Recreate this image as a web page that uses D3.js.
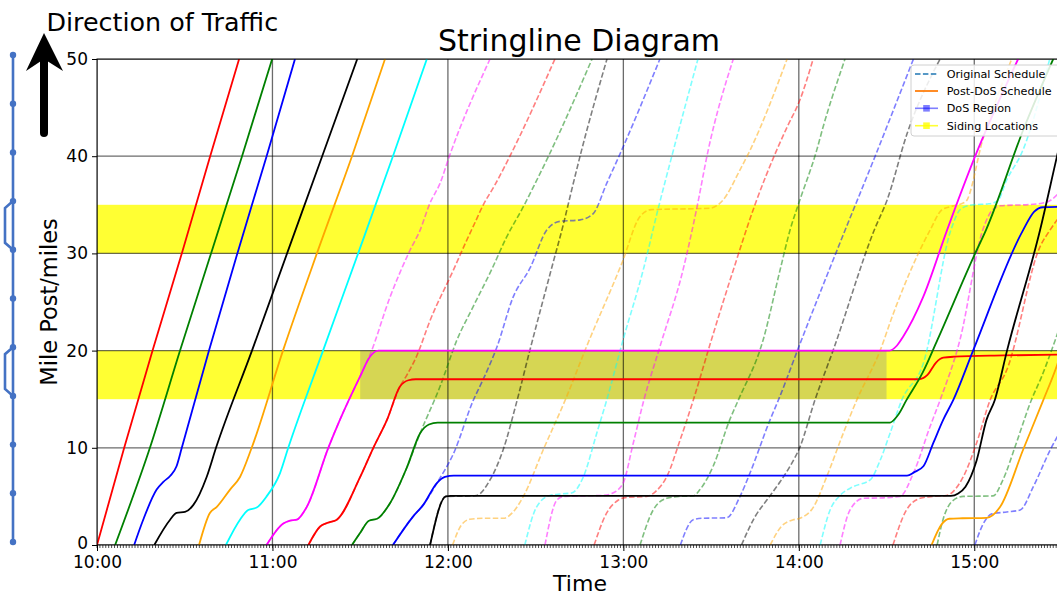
<!DOCTYPE html>
<html>
<head>
<meta charset="utf-8">
<script src="https://cdn.jsdelivr.net/npm/d3@7"></script>
<style>
  body { margin: 0; background: #fff; }
  text { font-family: "DejaVu Sans", sans-serif; }
</style>
</head>
<body>
<svg id="chart" width="1057" height="596"></svg>
<script>
// ---- data (times are minutes after 10:00, positions are mile posts) ----
var hourTicks = [0, 60, 120, 180, 240, 300];
var hourLabels = ["10:00", "11:00", "12:00", "13:00", "14:00", "15:00"];
var mileTicks = [0, 10, 20, 30, 40, 50];
var sidingBands = [[15, 20], [30, 35]];
var dosWindow = [90, 270];
var dosMiles = [15, 20];
var stationMiles = [0, 5, 10, 15, 20, 25, 30, 35, 40, 45, 50];
var legendLabels = ["Original Schedule", "Post-DoS Schedule", "DoS Region", "Siding Locations"];

// post-DoS schedule (solid)
var post01 = [[0,0],[9.3,10],[19,20],[29,30],[38.7,40],[48.6,50]];
var post02 = [[6.2,0],[18.1,10],[28.4,20],[39,30],[49.6,40],[59.9,50]];
var post03 = [[12.7,0],[15.8,2.6],[20.4,5.7],[22.7,6.5],[25,7.1],[27.2,8.1],[29,10],[38.3,20],[48,30],[58,40],[67.7,50]];
var post04 = [[19.6,0],[25,2.6],[27.2,3.3],[30.1,3.4],[32.9,4.1],[37.5,7],[40.7,10],[53,20],[65,30],[77,40],[89,50]];
var post05 = [[34.9,0],[38.6,3.3],[40.9,3.9],[45.5,5.7],[48.9,7],[52.9,10],[63.6,20],[75.2,30],[87.2,40],[98.5,50]];
var post06 = [[44.1,0],[48.9,2.6],[51.7,3.6],[54.6,3.85],[58,5],[62.6,7.4],[65.4,10],[77.3,20],[89.3,30],[101.2,40],[112.8,50]];
var post07 = [[58,0],[63.7,2.2],[66,2.5],[68.3,2.6],[71.7,3.9],[79.1,10],[83.1,12.9],[89.9,17.3],[93.4,19.4],[96.2,20],[271,20],[273.5,20.5],[275.6,21.4],[282.5,25.5],[290.7,32.4],[300.3,40],[315,50]];
var post08 = [[72.3,0],[76.3,1.9],[79.1,2.3],[82,2.6],[90,7],[94.5,10],[99.2,12.9],[103.6,16.3],[106.5,16.95],[109,17.05],[281,17.05],[284,17.5],[287,18.8],[289.4,19.27],[293,19.37],[310,19.5],[330,19.6]];
var post09 = [[87.2,0],[89.9,1.2],[93,2.5],[95.8,2.7],[100.2,4.3],[106,8],[110.5,11.5],[113.5,12.4],[116.5,12.6],[271.2,12.6],[274,13.4],[276.8,14.9],[282.3,17.7],[287.4,21.1],[300,29.8],[304,32.4],[317,42.9],[327,50]];
var post10 = [[101.2,0],[108,2.9],[111.5,4.1],[116.3,6.4],[119,7],[122,7.13],[277,7.13],[279.5,7.5],[282.6,8.1],[286,10.5],[289.4,12.9],[292.8,14.9],[299.6,20],[316.7,32.4],[320.5,34.3],[323.5,34.75],[331,34.8]];
var post11 = [[113.9,0],[119.3,5],[121,5.05],[292,5.05],[294.5,5.3],[297,6],[300.8,8.7],[304.2,12.9],[307,14.9],[311.2,20],[322.5,32.4],[328.3,40],[331,43.5]];
var post12 = [[285.4,0],[289,2.2],[291.5,2.7],[296,2.75],[304.2,2.8],[308.8,3.9],[316.7,9.8],[323.6,14.9],[328.3,18.5],[331,21]];
var postColors = ["red", "green", "blue", "black", "orange", "cyan", "magenta", "red", "green", "blue", "black", "orange"];

// original schedule (dashed)
var orig07 = [[58,0],[63.7,2.2],[66,2.5],[68.3,2.6],[71.7,3.9],[79.1,10],[83.1,12.9],[89.9,17.3],[93.4,19.6],[100.2,25.5],[107,30.3],[110.5,32.4],[113.9,35.2],[117.3,37.2],[120.5,40],[134.4,50]];
var orig08 = [[72.3,0],[76.3,1.9],[79.1,2.3],[82,2.6],[90,7],[94.5,10],[99.2,12.9],[103.6,16.3],[106,17.5],[109.4,19.5],[113.9,23.1],[121.9,28.3],[126.5,31.4],[129,33],[132.1,35],[136,37],[141.2,40],[156.6,50]];
var orig09 = [[87.2,0],[89.9,1.2],[93,2.5],[95.8,2.7],[100.2,4.3],[106,8],[110.5,11.5],[117.3,16.3],[123.1,21.1],[128.6,24.5],[134.9,28.3],[140.1,31.7],[145.8,34.8],[149.5,37],[154.4,40],[169.3,50]];
var orig10 = [[101.2,0],[108,2.9],[111.5,4.1],[116.3,6.4],[121.9,9.4],[128.7,14.9],[132,17],[136.8,20.4],[142.3,25.5],[148.1,28.5],[153.8,32.4],[158.3,33.3],[165.2,33.45],[169.7,34.1],[174.3,37.2],[179.4,40.6],[192.5,50]];
var orig11 = [[113.9,0],[119.3,5],[126,5.02],[129.8,5.1],[134.4,6.7],[138.9,9.8],[143.5,14.7],[148,20],[155.3,28.3],[159.4,32.9],[162.3,36.5],[165.7,40.6],[174.4,50]];
var orig12 = [[121.6,0],[124.5,2],[127.5,2.65],[133,2.75],[139,2.75],[142,3.3],[145.8,5],[152.6,9.8],[160.1,14.9],[167.4,20.4],[179.5,29],[185.7,33.8],[189.5,34.5],[209.6,34.65],[214.1,35.5],[219.9,38.6],[223.3,40.6],[236,50]];
var orig13 = [[146.3,0],[150.3,3.9],[154.9,5.1],[158.5,5.25],[162.3,5.35],[166.3,7],[170.9,11.5],[174.3,14.9],[179.9,21.1],[186.8,28.3],[191.9,34.6],[197.1,40.6],[205.5,50]];
var orig14 = [[153.2,0],[157.2,4.6],[159.5,5],[166,5.05],[173,5.1],[176,5.3],[179.8,6.3],[183.4,10.5],[187,14.9],[192.5,20.4],[200.4,28.3],[205,34.5],[209,40.6],[217.6,50]];
var orig15 = [[170,0],[174.3,3.3],[178.2,4.6],[181.1,4.9],[188,5],[191,5.5],[194.8,7],[199.4,10.8],[203.9,14.9],[210,21],[217.6,28.3],[225,35],[232.4,40.6],[236,43],[240.4,45.8],[244.9,50]];
var orig16 = [[185.7,0],[190.2,3.6],[194.8,4.8],[199,5],[203.9,5.05],[206.2,5.7],[210.7,8.1],[216.4,12.9],[219.3,14.9],[227.8,21.1],[233.6,28.3],[237,32.4],[239.8,35],[246.1,40.6],[248.3,43],[255.8,50]];
var orig17 = [[199.5,0],[203.9,2.6],[207,2.75],[215.3,2.8],[219.9,5],[223.3,7.4],[230.2,12.9],[233,14.9],[240.4,20.7],[254.5,31.4],[266.1,40],[279.2,50]];
var orig18 = [[220.4,0],[225,2.9],[229,4.6],[233.6,6.5],[237,8.1],[240.4,10.1],[245.5,14.9],[251.7,20],[265.8,32.4],[270.2,35.5],[277,42.3],[288.3,50]];
var orig19 = [[230.2,0],[234,1.9],[238.1,2.6],[240.4,2.75],[245,3.9],[249.5,7],[255.2,11.5],[259.8,14.9],[267.8,20],[272.3,23.8],[284.9,32.4],[289,34.5],[293,34.9],[297,35.3],[302.9,41.7],[312.8,50]];
var orig20 = [[247.3,0],[250.7,3.6],[254.1,5.1],[258.6,6],[264.4,6.7],[267.8,8.7],[271.2,11.5],[275.2,14.9],[282.6,18.7],[292,32.4],[295.5,34.6],[299.7,35],[305,35.1],[308,35.4],[311,37.5],[316.6,40.6],[325.8,50]];
var orig21 = [[254.1,0],[257.5,3.6],[262,4.8],[268.9,4.85],[274.6,5],[279.2,7.4],[284.9,12.2],[288.3,14.9],[295.1,21.1],[302.9,32.4],[306,34.4],[309,34.9],[320,35.05],[325,35.3],[331,37]];
var orig22 = [[272.2,0],[276.8,3.6],[281.5,4.8],[286,5],[290.5,5.1],[296.2,7],[300.8,10.5],[305.4,14.9],[311.1,18],[322.5,30.7],[325.9,32.4],[331,34.5]];
var orig23 = [[287.3,0],[289.3,2.6],[292.8,4.6],[296.2,5],[306.4,5.05],[309.8,6.7],[314.4,10.5],[319.5,14.9],[323,17.3],[327.7,21.1],[332,25]];
var orig24 = [[300.2,0],[303.1,2.2],[306,3.2],[311.1,3.4],[315.7,3.6],[320.2,6],[326,9.8],[331,12.5]];
var origColors = ["magenta", "red", "green", "blue", "black", "orange", "cyan", "magenta", "red", "green", "blue", "black", "orange", "cyan", "magenta", "red", "green", "blue"];

var postRuns = [post01, post02, post03, post04, post05, post06, post07, post08, post09, post10, post11, post12];
var origRuns = [orig07, orig08, orig09, orig10, orig11, orig12, orig13, orig14, orig15, orig16, orig17, orig18, orig19, orig20, orig21, orig22, orig23, orig24];

// ---- chart ----
var svg = d3.select("#chart");
var x = d3.scaleLinear().domain([0, 330]).range([97, 1062]);
var y = d3.scaleLinear().domain([0, 50]).range([545, 59]);

svg.append("defs").append("clipPath").attr("id", "plotclip")
    .append("rect").attr("x", x(0)).attr("y", y(50))
    .attr("width", x(330) - x(0)).attr("height", y(0) - y(50));

var plot = svg.append("g").attr("clip-path", "url(#plotclip)");

// siding bands
plot.selectAll("rect.siding").data(sidingBands).enter().append("rect")
    .attr("class", "siding")
    .attr("x", x(0)).attr("width", x(330) - x(0))
    .attr("y", function(d) { return y(d[1]); })
    .attr("height", function(d) { return y(d[0]) - y(d[1]); })
    .attr("fill", "#ffff00").attr("fill-opacity", 0.8);

// DoS region
plot.append("rect")
    .attr("x", x(dosWindow[0])).attr("width", x(dosWindow[1]) - x(dosWindow[0]))
    .attr("y", y(dosMiles[1])).attr("height", y(dosMiles[0]) - y(dosMiles[1]))
    .attr("fill", "#0000ff").attr("fill-opacity", 0.16);

// grid
plot.selectAll("line.vgrid").data(hourTicks).enter().append("line")
    .attr("x1", function(d) { return x(d); }).attr("x2", function(d) { return x(d); })
    .attr("y1", y(0)).attr("y2", y(50))
    .attr("stroke", "#000").attr("stroke-opacity", 0.58).attr("stroke-width", 1.3);
plot.selectAll("line.hgrid").data(mileTicks).enter().append("line")
    .attr("x1", x(0)).attr("x2", x(330))
    .attr("y1", function(d) { return y(d); }).attr("y2", function(d) { return y(d); })
    .attr("stroke", "#000").attr("stroke-opacity", 0.58).attr("stroke-width", 1.3);

var line = d3.line()
    .x(function(d) { return x(d[0]); })
    .y(function(d) { return y(d[1]); })
    .curve(d3.curveMonotoneX);

plot.selectAll("path.orig").data(origRuns).enter().append("path")
    .attr("class", "orig")
    .attr("d", line)
    .attr("fill", "none")
    .attr("stroke", function(d, i) { return origColors[i]; })
    .attr("stroke-opacity", 0.5)
    .attr("stroke-width", 1.6)
    .attr("stroke-dasharray", "5.5,2.4");

plot.selectAll("path.post").data(postRuns).enter().append("path")
    .attr("class", "post")
    .attr("d", line)
    .attr("fill", "none")
    .attr("stroke", function(d, i) { return postColors[i]; })
    .attr("stroke-width", 1.8);

// axes
var xAxis = d3.axisBottom(x).tickValues(hourTicks)
    .tickFormat(function(d, i) { return hourLabels[i]; }).tickSize(6).tickPadding(4.5);
var gx = svg.append("g").attr("transform", "translate(0," + y(0) + ")").call(xAxis);
gx.select(".domain").remove();
gx.selectAll("text").attr("font-size", 17).attr("fill", "#000").attr("font-family", "DejaVu Sans");

var minorTicks = d3.range(0, 331, 1);
svg.append("g").selectAll("line").data(minorTicks).enter().append("line")
    .attr("x1", function(d) { return x(d); }).attr("x2", function(d) { return x(d); })
    .attr("y1", y(0)).attr("y2", y(0) + 3)
    .attr("stroke", "#000").attr("stroke-width", 0.7);

var yAxis = d3.axisLeft(y).tickValues(mileTicks).tickSize(5).tickPadding(4);
var gy = svg.append("g").attr("transform", "translate(" + x(0) + ",0)").call(yAxis);
gy.select(".domain").remove();
gy.selectAll("text").attr("font-size", 17).attr("fill", "#000").attr("font-family", "DejaVu Sans")
    .attr("dy", function(d) { return d === 0 ? "0.22em" : "0.32em"; });

// spines
svg.append("rect").attr("x", x(0)).attr("y", y(50))
    .attr("width", x(330) - x(0)).attr("height", y(0) - y(50))
    .attr("fill", "none").attr("stroke", "#000").attr("stroke-width", 1);

// titles
svg.append("text").attr("x", 579).attr("y", 51).attr("text-anchor", "middle")
    .attr("font-size", 30).text("Stringline Diagram");
svg.append("text").attr("x", 580).attr("y", 591).attr("text-anchor", "middle")
    .attr("font-size", 22).text("Time");
svg.append("text").attr("transform", "translate(57," + (y(25)) + ") rotate(-90)")
    .attr("text-anchor", "middle").attr("font-size", 22.5).text("Mile Post/miles");
svg.append("text").attr("x", 46.5).attr("y", 30.5).attr("font-size", 25.4).text("Direction of Traffic");

// direction arrow
svg.append("line").attr("x1", 44).attr("y1", 133).attr("x2", 44).attr("y2", 60)
    .attr("stroke", "#000").attr("stroke-width", 8).attr("stroke-linecap", "round");
svg.append("path").attr("d", "M44,33 L63,71 L44,59 L26,71 Z").attr("fill", "#000");

// track diagram
var ty = d3.scaleLinear().domain([0, 50]).range([542, 55]);
var track = svg.append("g").attr("stroke", "#4472c4").attr("fill", "none").attr("stroke-width", 2.6);
track.append("line").attr("x1", 13).attr("x2", 13).attr("y1", ty(0)).attr("y2", ty(50));
track.selectAll("path").data(sidingBands).enter().append("path")
    .attr("d", function(d) {
        var top = ty(d[1]), bot = ty(d[0]);
        return "M13," + top + " L5," + (top + 7) + " L5," + (bot - 7) + " L13," + bot;
    });
svg.append("g").selectAll("circle").data(stationMiles).enter().append("circle")
    .attr("cx", 13).attr("cy", function(d) { return ty(d); }).attr("r", 3.2)
    .attr("fill", "#4472c4");

// legend
var lg = svg.append("g").attr("transform", "translate(911,65)");
lg.append("rect").attr("width", 150).attr("height", 71).attr("rx", 3)
    .attr("fill", "#fff").attr("fill-opacity", 0.85).attr("stroke", "#d0d0d0");
var rowY = [9, 26, 43.3, 60.7];
lg.append("line").attr("x1", 4).attr("x2", 27).attr("y1", rowY[0]).attr("y2", rowY[0])
    .attr("stroke", "#1f77b4").attr("stroke-width", 1.6).attr("stroke-dasharray", "5.5,2.4");
lg.append("line").attr("x1", 4).attr("x2", 27).attr("y1", rowY[1]).attr("y2", rowY[1])
    .attr("stroke", "#ff7f0e").attr("stroke-width", 1.8);
lg.append("line").attr("x1", 4).attr("x2", 27).attr("y1", rowY[2]).attr("y2", rowY[2])
    .attr("stroke", "#0000ff").attr("stroke-opacity", 0.5).attr("stroke-width", 1.6);
lg.append("rect").attr("x", 12.2).attr("y", rowY[2] - 3.3).attr("width", 6.6).attr("height", 6.6)
    .attr("fill", "#0000ff").attr("fill-opacity", 0.5);
lg.append("line").attr("x1", 4).attr("x2", 27).attr("y1", rowY[3]).attr("y2", rowY[3])
    .attr("stroke", "#ffff00").attr("stroke-opacity", 0.8).attr("stroke-width", 1.6);
lg.append("rect").attr("x", 12.2).attr("y", rowY[3] - 3.3).attr("width", 6.6).attr("height", 6.6)
    .attr("fill", "#ffff00").attr("fill-opacity", 0.8);
lg.selectAll("text").data(legendLabels).enter().append("text")
    .attr("x", 35.7).attr("y", function(d, i) { return rowY[i]; }).attr("dy", "0.36em")
    .attr("font-size", 11.2).attr("fill", "#000").text(function(d) { return d; });
</script>
</body>
</html>
